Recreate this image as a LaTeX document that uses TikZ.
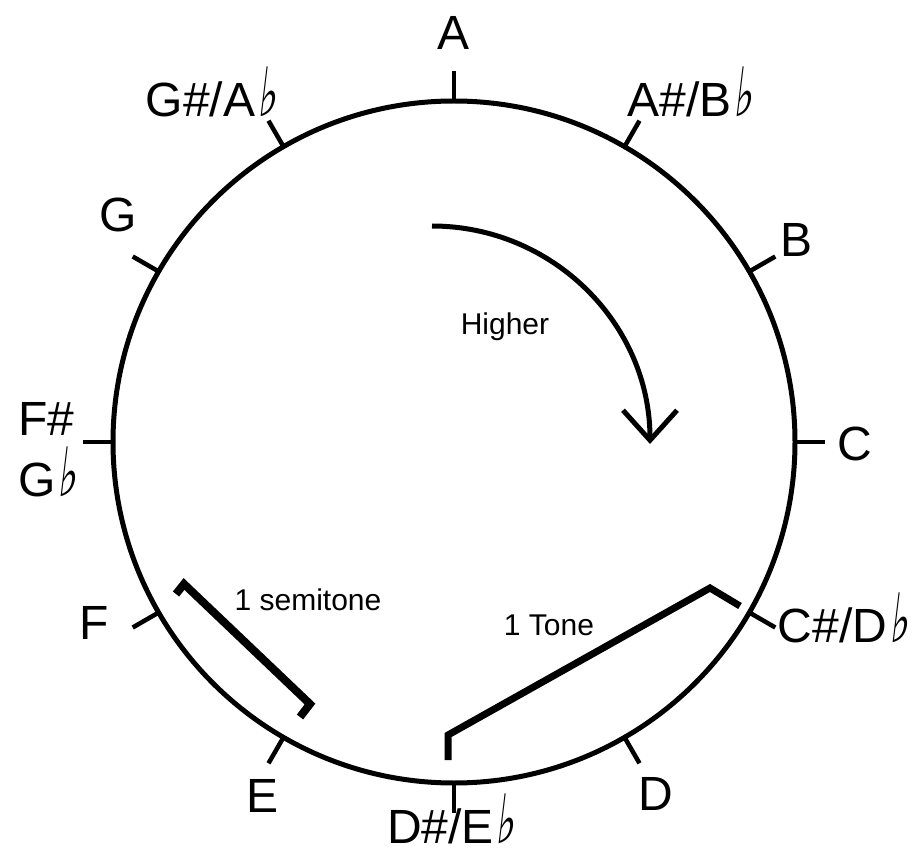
\documentclass[tikz,border=0pt]{standalone}
\usepackage{fontspec}
\setmainfont{Liberation Sans}
\newfontfamily\symfont[FakeSlant=0.2]{DejaVu Sans}
\usetikzlibrary{arrows.meta}
\newcommand{\flt}{\hspace{2pt}\scalebox{0.6}[1]{\symfont\bfseries\fontsize{68}{60}\selectfont ♭}}
\tikzset{
  rim/.style={line width=5pt},
  tick/.style={line width=4.5pt},
  brace/.style={line width=8pt, line join=miter},
  note/.style={inner sep=0pt, font=\fontsize{48}{60}\selectfont},
  small/.style={inner sep=0pt, font=\fontsize{30}{36}\selectfont}
}
\begin{document}
\begin{tikzpicture}[x=1pt,y=-1pt]
  \useasboundingbox (0,0) rectangle (919,861);
  \coordinate (O) at (454,442);

  % kruh
  \draw[rim] (O) circle[radius=341];

  % znacky
  \foreach \k in {0,...,11}
    \draw[tick, shift={(O)}] ({-90+30*\k}:339) -- ({-90+30*\k}:371);

  % tony
  \foreach \n/\x/\y/\t in {a/454/33/A, ais/690/100/{A\#/B\flt}, b/797/240/B,
      c/855/443/C, cis/843/625/{C\#/D\flt}, d/656/793/D, dis/451/826/{D\#/E\flt},
      e/263/795/E, f/94/622/F, g/118/215/G, gis/211/100/{G\#/A\flt}}
    \node[note, anchor=base] (\n) at (\x,\y+17) {\t};
  \node[note, anchor=base west] (fis) at (18,435) {F\#};
  \node[note, anchor=base west] (ges) at (18,496) {G\flt};

  % smer
  \draw[rim, -{Straight Barb[length=30pt,width=54pt]}] (432,226)
    arc[start angle=-90, end angle=0, radius=218];
  \node[small] (higher) at (505,327) {Higher};

  % poltón a tón
  \draw[brace] (176,594) -- (184,584) -- (310,704) -- (300,717);
  \node[small] (semi) at (308,600) {1 semitone};
  \draw[brace, line width=7pt] (448,760) -- (448,735) -- (710,588) -- (740,606);
  \node[small] (tone) at (549,625) {1 Tone};

\end{tikzpicture}
\end{document}
